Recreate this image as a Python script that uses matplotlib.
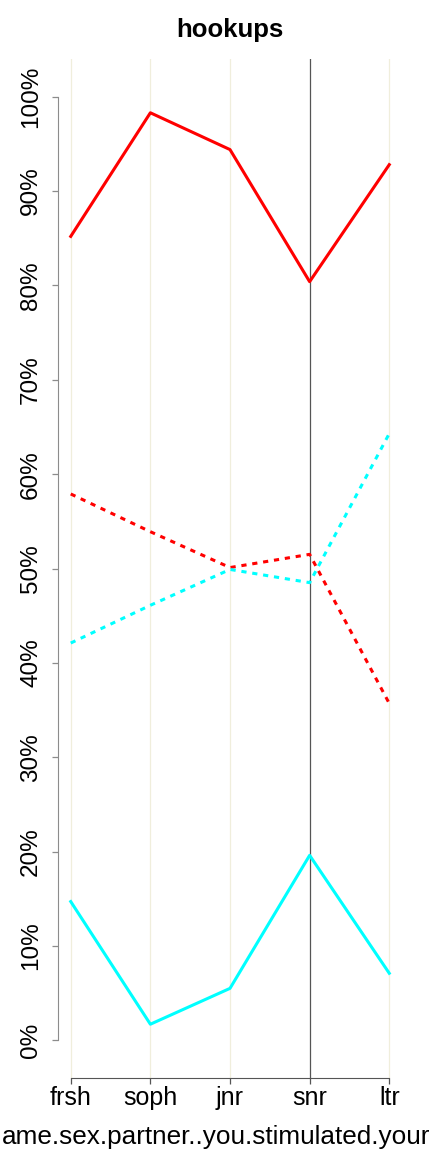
import numpy as np
import matplotlib
matplotlib.use("Agg")
import matplotlib.pyplot as plt

plt.rcParams['font.family'] = ['Liberation Sans', 'DejaVu Sans']

# class years on the x axis
years = ["frsh", "soph", "jnr", "snr", "ltr"]

# shares per year (solid pair and dotted pair are complements)
red_solid = [0.852, 0.983, 0.944, 0.804, 0.928]
cyan_solid = [0.147, 0.017, 0.055, 0.196, 0.071]
red_dotted = [0.579, 0.539, 0.501, 0.515, 0.357]
cyan_dotted = [0.421, 0.461, 0.499, 0.485, 0.643]

yticks = [0.0, 0.1, 0.2, 0.3, 0.4, 0.5, 0.6, 0.7, 0.8, 0.9, 1.0]
highlight = "snr"

title = "hookups"
xlabel = "ame.sex.partner..you.stimulated.your"

fig = plt.figure(figsize=(4.32, 11.52), dpi=100)
ax = fig.add_axes([58/432, 1 - 1078/1152, (402 - 58)/432, (1078 - 59)/1152])

x = np.arange(1, len(years) + 1)

#Background vertical guides, one per year
for i, yr in enumerate(years):
	if yr == highlight:
		ax.axvline(x[i], color="#555555", lw=0.9, zorder=1)
	else:
		ax.axvline(x[i], color="#f0eedc", lw=0.9, zorder=1)

lw = 2.2
dots = (0, (1.7, 1.9))
ax.plot(x, red_solid, color="#ff0000", lw=lw, zorder=3)
ax.plot(x, cyan_solid, color="#00ffff", lw=lw, zorder=3)
ax.plot(x, red_dotted, color="#ff0000", lw=lw, ls=dots, zorder=3)
ax.plot(x, cyan_dotted, color="#00ffff", lw=lw, ls=dots, zorder=3)

ax.set_xlim(0.84, 5.16)
ax.set_ylim(-0.04, 1.04)

#R-style detached axes
for s in ["top", "right"]:
	ax.spines[s].set_visible(False)
ax.spines["left"].set_bounds(0, 1)
ax.spines["left"].set_color("#8c8c8c")
ax.spines["bottom"].set_bounds(1, 5)
ax.spines["bottom"].set_color("#555555")

ax.set_xticks(x)
ax.set_xticklabels(years, fontsize=18)
ax.set_yticks(yticks)
ax.set_yticklabels([f"{int(round(v*100))}%" for v in yticks], fontsize=17.5,
	rotation=90, va="center")
ax.tick_params(axis="y", length=4.5, width=0.9, color="#8c8c8c", pad=7)
ax.tick_params(axis="x", length=4.5, width=0.9, color="#555555", pad=1)

ax.set_title(title, fontsize=18.5, fontweight="bold", pad=16)

#Axis label centred on the figure, as wide as the figure allows
fig.text(0.5, 1 - 1137/1152, xlabel, fontsize=18.8, ha="center", va="center")

fig.savefig("out.png", dpi=100)
